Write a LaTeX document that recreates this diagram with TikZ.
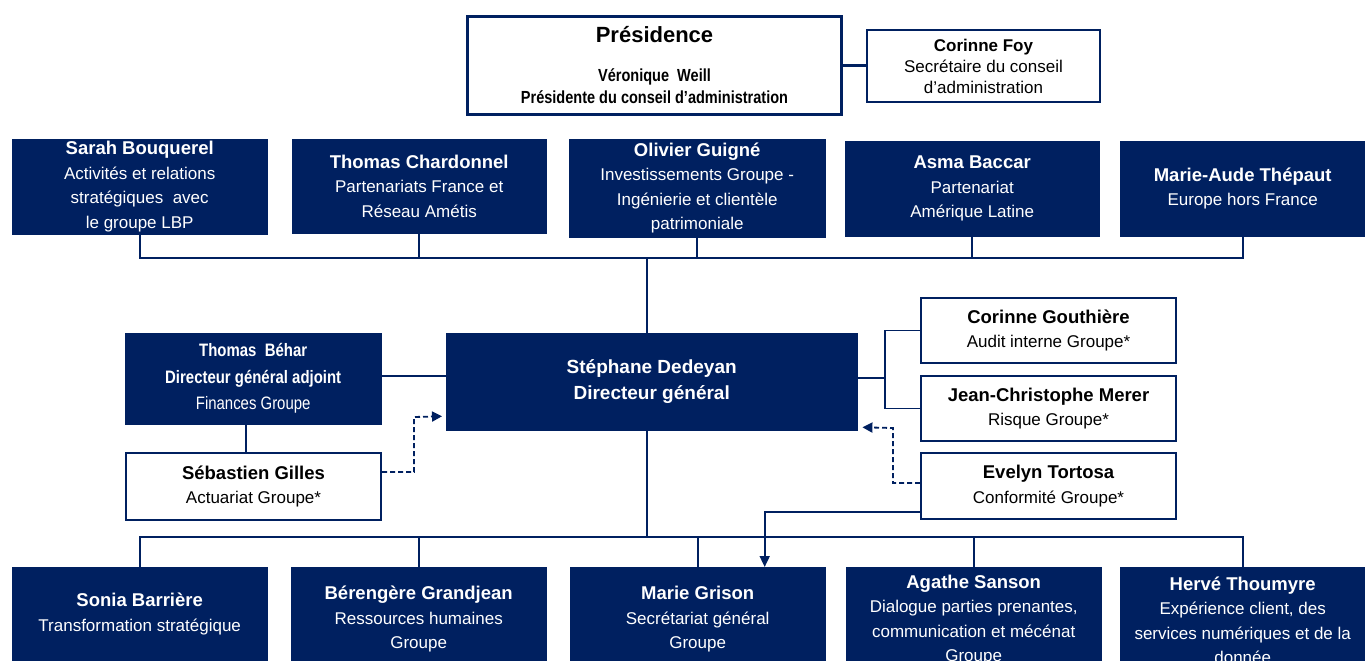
\documentclass[tikz,border=0pt]{standalone}
\usepackage{fontspec}
\setmainfont{Liberation Sans}
\newfontfamily\narrowsf[FakeStretch=0.83]{Liberation Sans}
\usetikzlibrary{arrows.meta,positioning}
\definecolor{navy}{RGB}{0,32,96}
\newcommand\nm[1]{{\fontsize{18.5}{24.5}\selectfont\bfseries #1}}

\begin{document}
\begin{tikzpicture}[
  x=1pt, y=-1pt,
  font=\fontsize{17}{24.5}\selectfont,
  darkbox/.style={
    draw=navy,
    fill=navy,
    text=white,
    anchor=north west,
    inner sep=0pt,
    align=center
  },
  whitebox/.style={
    draw=navy,
    line width=2pt,
    fill=white,
    anchor=north west,
    inner sep=0pt,
    align=center
  },
  link/.style={draw=navy, line width=1.8pt},
  dashlink/.style={draw=navy, line width=1.8pt, dash pattern=on 5pt off 3pt, -{Triangle[length=10pt,width=10pt]}},
  arr/.style={draw=navy, line width=1.8pt, -{Triangle[length=11pt,width=10pt]}}
]
\useasboundingbox (0,0) rectangle (1365,661);
\clip (0,0) rectangle (1365,661);

% Presidence
\node[whitebox, line width=3pt, minimum width=374, minimum height=98,
  font=\narrowsf\fontsize{17.5}{22}\selectfont\bfseries] (pres) at (466,15)
  {{\fontsize{22}{26}\selectfont\rmfamily\bfseries Présidence}\\[17pt]
   Véronique\ \ Weill\\Présidente du conseil d’administration};
\node[whitebox, minimum width=233, minimum height=72,
  font=\fontsize{17}{21}\selectfont] (foy) at (866,29)
  {\textbf{Corinne Foy}\\Secrétaire du conseil\\d’administration};
\draw[link, line width=3pt] (pres.east) -- (pres.east -| foy.west);

% top row
\node[darkbox, minimum width=255, minimum height=95] (sarah) at (12,139)
  {\nm{Sarah Bouquerel}\\Activités et relations\\stratégiques\ \ avec\\le groupe LBP};
\node[darkbox, minimum width=254, minimum height=94] (chardonnel) at (292,139)
  {\nm{Thomas Chardonnel}\\Partenariats France et\\Réseau Amétis};
\node[darkbox, minimum width=256, minimum height=98] (guigne) at (569,139)
  {\nm{Olivier Guigné}\\Investissements Groupe -\\Ingénierie et clientèle\\patrimoniale};
\node[darkbox, minimum width=254, minimum height=95] (baccar) at (845,141)
  {\nm{Asma Baccar}\\Partenariat\\Amérique Latine};
\node[darkbox, minimum width=245, minimum height=95] (thepaut) at (1120,141)
  {\nm{Marie-Aude Thépaut}\\Europe hors France};

% direction generale
\node[darkbox, minimum width=411, minimum height=97,
  font=\fontsize{19}{26}\selectfont\bfseries] (dg) at (446,333)
  {Stéphane Dedeyan\\Directeur général};
\node[darkbox, minimum width=256, minimum height=91,
  font=\narrowsf\fontsize{18}{26.5}\selectfont] (behar) at (125,333)
  {\textbf{Thomas\ \ Béhar}\\\textbf{Directeur général adjoint}\\Finances Groupe};
\node[whitebox, minimum width=255, minimum height=67] (gilles) at (125,452)
  {\nm{Sébastien Gilles}\\Actuariat Groupe*};
\node[whitebox, minimum width=255, minimum height=65] (gouthiere) at (920,297)
  {\nm{Corinne Gouthière}\\Audit interne Groupe*};
\node[whitebox, minimum width=255, minimum height=65] (merer) at (920,375)
  {\nm{Jean-Christophe Merer}\\Risque Groupe*};
\node[whitebox, minimum width=255, minimum height=66] (tortosa) at (920,452)
  {\nm{Evelyn Tortosa}\\Conformité Groupe*};

% bottom row
\node[darkbox, minimum width=255, minimum height=94] (barriere) at (12,567)
  {\nm{Sonia Barrière}\\Transformation stratégique};
\node[darkbox, minimum width=255, minimum height=104] (grandjean) at (291,567)
  {\nm{Bérengère Grandjean}\\Ressources humaines\\Groupe};
\node[darkbox, minimum width=255, minimum height=104] (grison) at (570,567)
  {\nm{Marie Grison}\\Secrétariat général\\Groupe};
\node[darkbox, minimum width=255, minimum height=106] (sanson) at (846,567)
  {\nm{Agathe Sanson}\\Dialogue parties prenantes,\\communication et mécénat\\Groupe};
\node[darkbox, minimum width=245, minimum height=106] (thoumyre) at (1120,567)
  {\nm{Hervé Thoumyre}\\Expérience client, des\\services numériques et de la\\donnée};

% top bus
\coordinate (topbus) at (647,258);
\draw[link] (sarah.south) -- (sarah.south |- topbus) -- (thepaut.south |- topbus) -- (thepaut.south);
\draw[link] (chardonnel.south) -- (chardonnel.south |- topbus);
\draw[link] (guigne.south) -- (guigne.south |- topbus);
\draw[link] (baccar.south) -- (baccar.south |- topbus);
\draw[link] (topbus) -- (topbus |- dg.north);

% bottom bus
\coordinate (botbus) at (647,537);
\draw[link] (botbus |- dg.south) -- (botbus);
\draw[link] (barriere.north) -- (barriere.north |- botbus) -- (thoumyre.north |- botbus) -- (thoumyre.north);
\draw[link] (grandjean.north) -- (grandjean.north |- botbus);
\draw[link] (grison.north) -- (grison.north |- botbus);
\draw[link] (sanson.north) -- (sanson.north |- botbus);

% left side
\draw[link] ([yshift=3pt]behar.east) -- ([yshift=3pt]behar.east -| dg.west);
\draw[link] ([xshift=-7pt]behar.south) -- ([xshift=-7pt]behar.south |- gilles.north);
\draw[dashlink, shorten >=4pt] ([yshift=14.5pt]gilles.east) -| ++(32,-55) -- ([yshift=-34.5pt]dg.west);

% right side
\coordinate (rjoin) at (885,378);
\draw[link] (rjoin -| dg.east) -- (rjoin);
\draw[link] (gouthiere.west) -| (rjoin) |- (merer.west);
\draw[dashlink, shorten >=5pt] ([yshift=3pt]tortosa.west) -| ++(-27,-55) -- ([yshift=-45.5pt]dg.east);
\draw[arr] ([yshift=8pt]tortosa.south west) -| ([xshift=67pt]grison.north);

\end{tikzpicture}
\end{document}
